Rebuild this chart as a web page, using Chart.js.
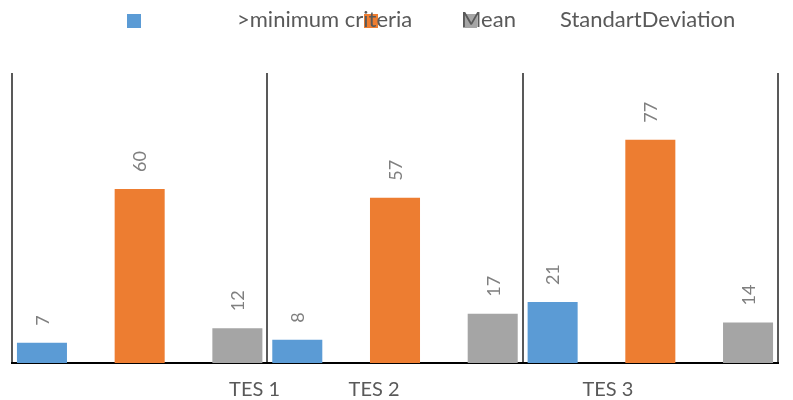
<!DOCTYPE html>
<html>
<head>
<meta charset="utf-8">
<script src="https://cdn.jsdelivr.net/npm/chart.js@4"></script>
<style>
  html, body { margin: 0; padding: 0; background: #fff; }
  #wrap { width: 793px; height: 400px; }
</style>
</head>
<body>
<div id="wrap"><canvas id="tesChart" width="793" height="400"></canvas></div>
<script>
// data
const categories = ["TES 1", "TES 2", "TES 3"];
const seriesNames = [">minimum criteria", "Mean", "StandartDeviation"];
const minCriteria = [7, 8, 21];
const meanVals = [60, 57, 77];
const stdDev = [12, 17, 14];

const colors = ["#5B9BD5", "#ED7D31", "#A5A5A5"];
const FONT = "Lato, 'Open Sans', sans-serif";

// the category labels sit off-centre in the original (fraction of a category width)
const labelShift = [0.45, -0.082, -0.166];
// the legend in the original is broken: boxes sit well before their text
const legendBoxX = [127, 364, 463];
const legendTextX = [237, 461, 560];

const barLabels = {
  id: "barLabels",
  afterDatasetsDraw(chart) {
    const ctx = chart.ctx;
    ctx.save();
    ctx.fillStyle = "#7F7F7F";
    ctx.font = "18px " + FONT;
    ctx.textAlign = "left";
    ctx.textBaseline = "middle";
    chart.data.datasets.forEach((ds, i) => {
      chart.getDatasetMeta(i).data.forEach((bar, j) => {
        ctx.save();
        ctx.translate(bar.x, bar.y - 17);
        ctx.rotate(-Math.PI / 2);
        ctx.fillText(String(ds.data[j]), 0, 1);
        ctx.restore();
      });
    });
    ctx.restore();
  },
};

const catLabels = {
  id: "catLabels",
  afterDraw(chart) {
    const ctx = chart.ctx;
    const x = chart.scales.x;
    const w = (x.right - x.left) / categories.length;
    ctx.save();
    ctx.fillStyle = "#595959";
    ctx.font = "20px " + FONT;
    ctx.textAlign = "center";
    ctx.textBaseline = "alphabetic";
    categories.forEach((c, i) => {
      ctx.fillText(c, x.getPixelForValue(i) + labelShift[i] * w, 396);
    });
    ctx.restore();
  },
};

const oddLegend = {
  id: "oddLegend",
  afterDraw(chart) {
    const ctx = chart.ctx;
    const sets = chart.data.datasets;
    ctx.save();
    sets.forEach((ds, i) => {
      ctx.fillStyle = ds.backgroundColor;
      ctx.fillRect(legendBoxX[i], 14, 14, 14);
    });
    ctx.font = "22px " + FONT;
    ctx.textBaseline = "alphabetic";
    ctx.textAlign = "left";
    ctx.fillStyle = "#595959";
    sets.forEach((ds, i) => {
      ctx.fillText(ds.label, legendTextX[i], 27);
    });
    ctx.restore();
  },
};

new Chart(document.getElementById("tesChart"), {
  type: "bar",
  data: {
    labels: categories,
    datasets: [
      { label: seriesNames[0], data: minCriteria, backgroundColor: colors[0] },
      { label: seriesNames[1], data: meanVals, backgroundColor: colors[1] },
      { label: seriesNames[2], data: stdDev, backgroundColor: colors[2] },
    ],
  },
  options: {
    responsive: false,
    devicePixelRatio: 1,
    animation: false,
    categoryPercentage: 1.148,
    barPercentage: 0.512,
    layout: { padding: { top: 73, left: 12, right: 15, bottom: 37 } },
    plugins: { legend: { display: false }, tooltip: { enabled: false } },
    scales: {
      x: {
        ticks: { display: false },
        grid: { color: "#595959", lineWidth: 2, drawTicks: false },
        border: { color: "#000", width: 2 },
      },
      y: { display: false, min: 0, max: 100 },
    },
  },
  plugins: [barLabels, catLabels, oddLegend],
});
</script>
</body>
</html>
